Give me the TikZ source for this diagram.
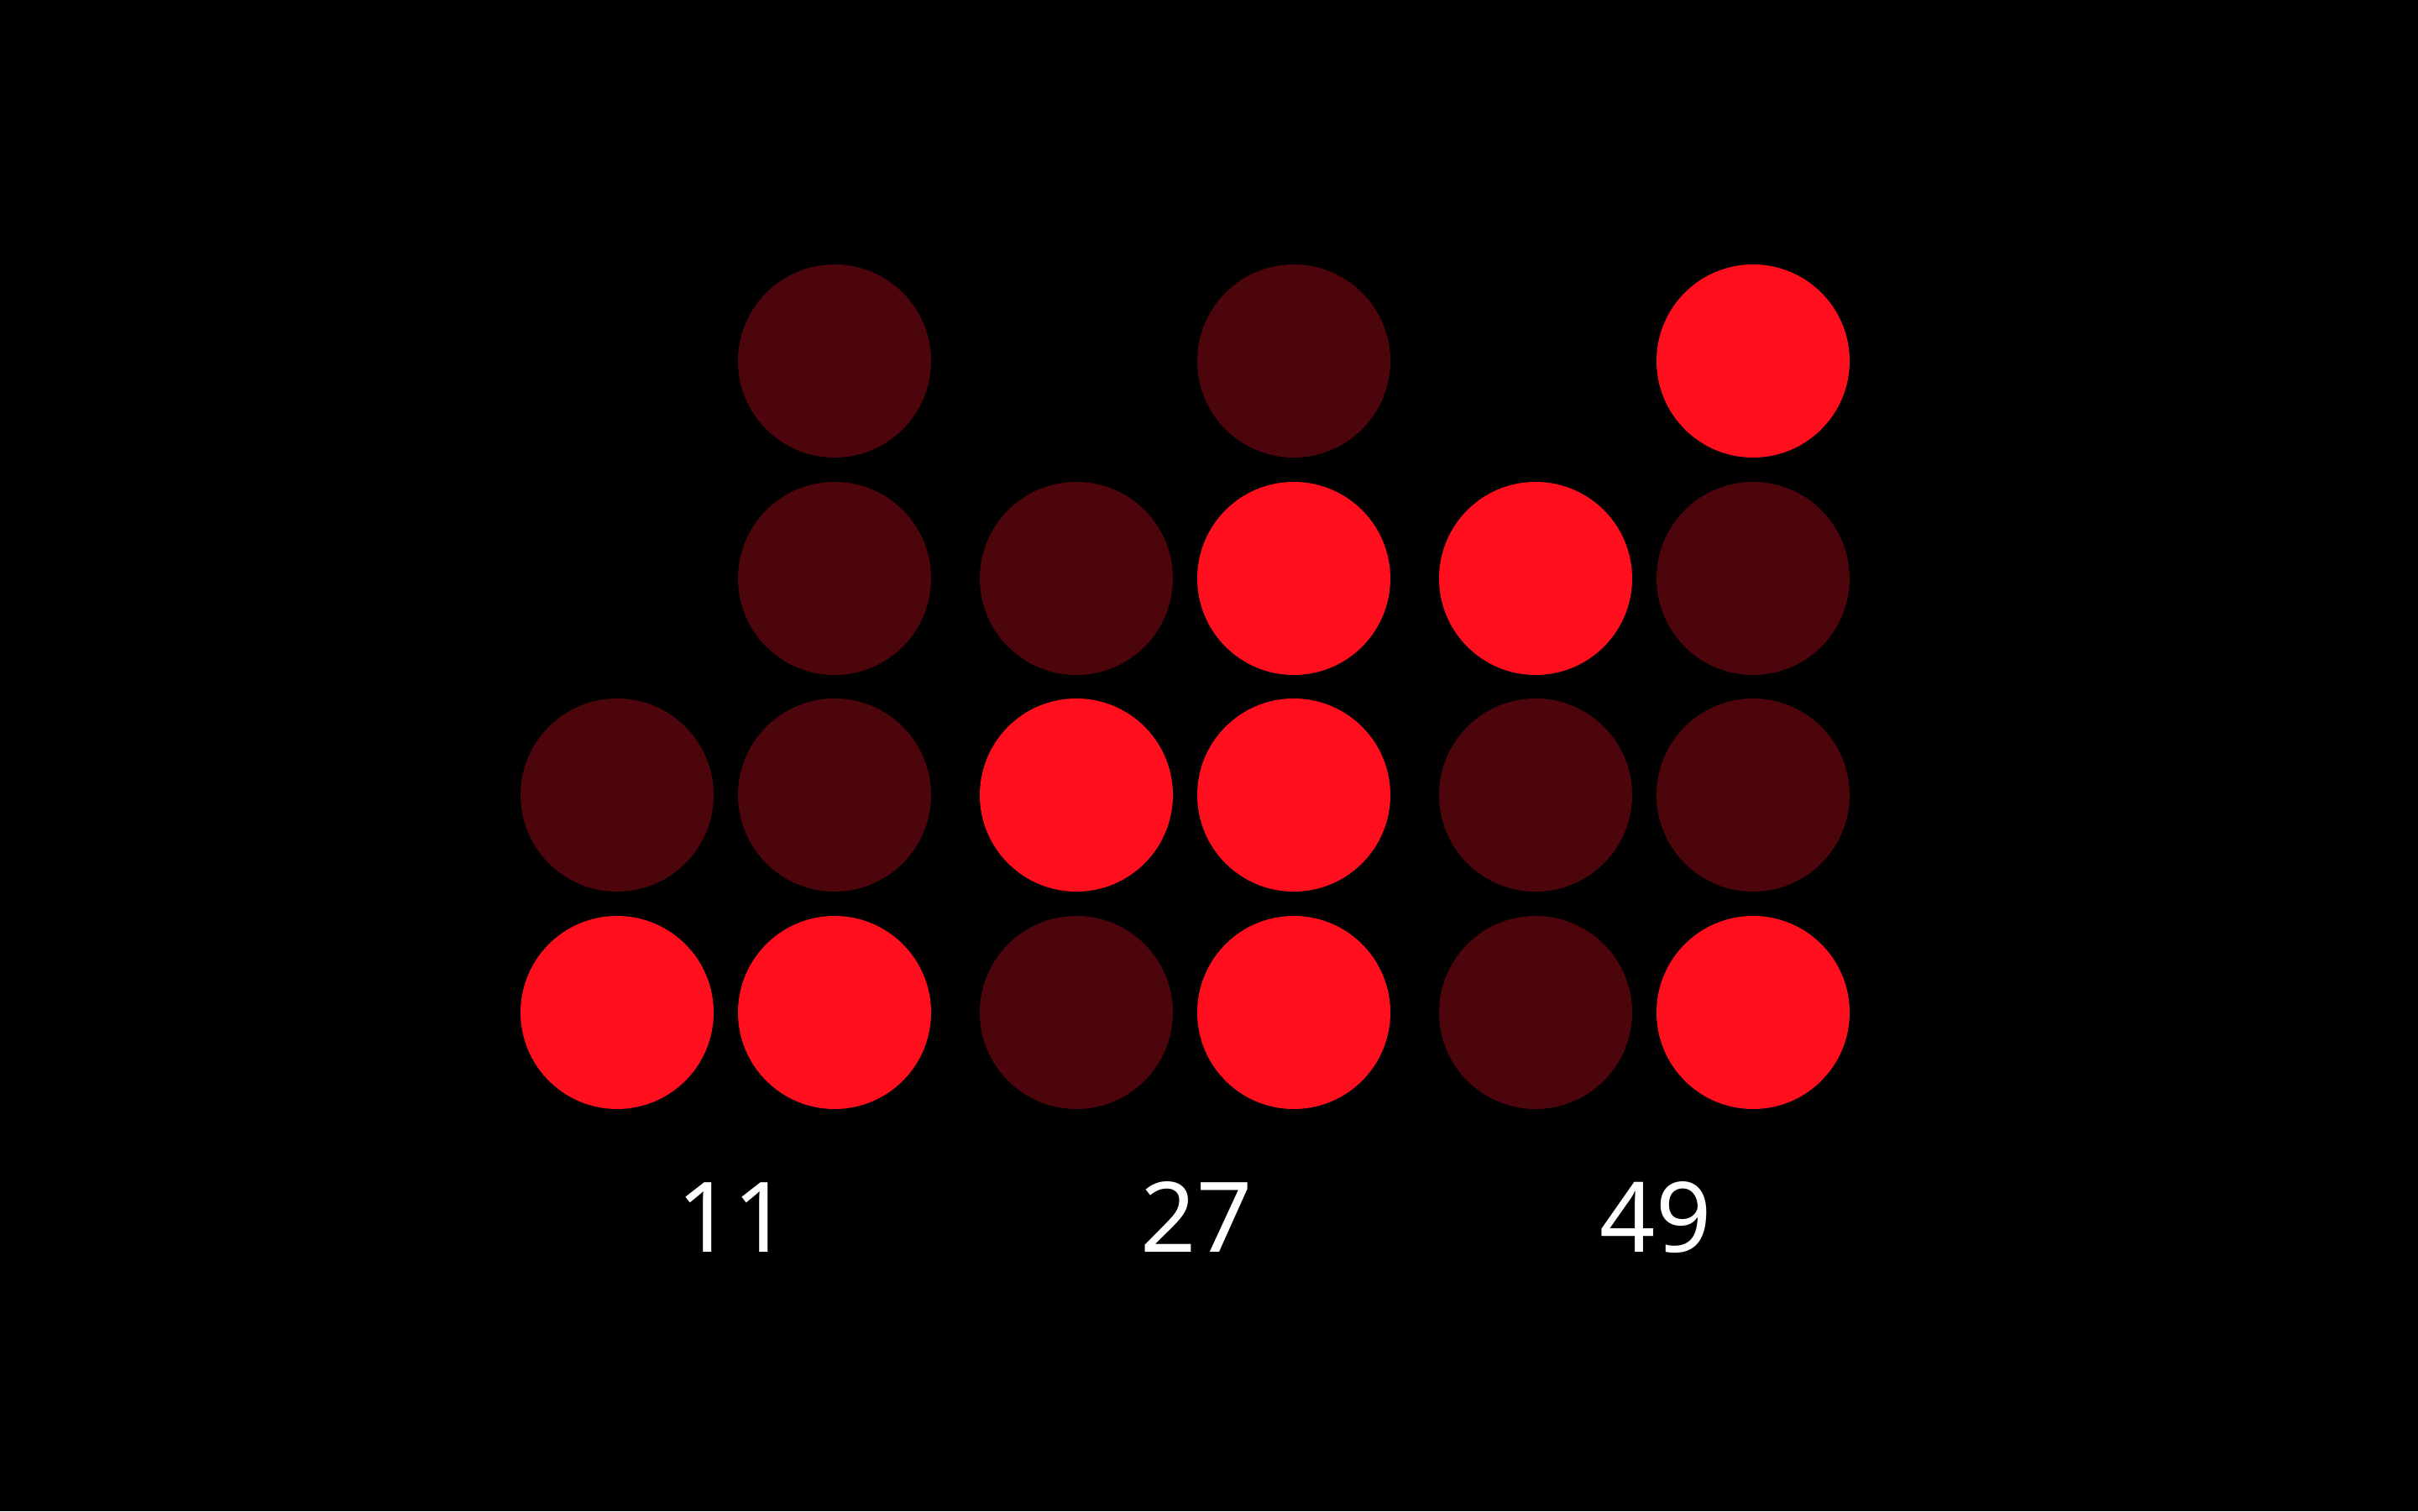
\documentclass[tikz,border=0pt]{standalone}
\usepackage{fontspec}
\setmainfont{Noto Sans}
\usepackage{tikz}
\usetikzlibrary{positioning}
\definecolor{biton}{RGB}{255, 15, 30}
\definecolor{bitoff}{RGB}{76, 5, 10}
\definecolor{bgblack}{RGB}{0, 0, 0}

\tikzset{
  on/.style={circle, fill=biton, minimum size=2.3cm, inner sep=0pt},
  off/.style={circle, fill=bitoff, minimum size=2.3cm, inner sep=0pt},
  digits/.style={white, font=\fontsize{33}{36}\selectfont, anchor=base}
}

\begin{document}
\begin{tikzpicture}
  % 背景
  \fill[bgblack] (0,0) rectangle (28.8,18);

  % 时：1 1
  \node[off] (h1b1) at (7.35, 8.53) {};
  \node[on]  (h1b0) at (7.35, 5.94) {};
  \node[off] (h0b3) at (9.94,13.70) {};
  \node[off] (h0b2) at (9.94,11.11) {};
  \node[off] (h0b1) at (9.94, 8.53) {};
  \node[on]  (h0b0) at (9.94, 5.94) {};

  % 分：2 7
  \node[off] (m1b2) at (12.82,11.11) {};
  \node[on]  (m1b1) at (12.82, 8.53) {};
  \node[off] (m1b0) at (12.82, 5.94) {};
  \node[off] (m0b3) at (15.41,13.70) {};
  \node[on]  (m0b2) at (15.41,11.11) {};
  \node[on]  (m0b1) at (15.41, 8.53) {};
  \node[on]  (m0b0) at (15.41, 5.94) {};

  % 秒：4 9
  \node[on]  (s1b2) at (18.29,11.11) {};
  \node[off] (s1b1) at (18.29, 8.53) {};
  \node[off] (s1b0) at (18.29, 5.94) {};
  \node[on]  (s0b3) at (20.88,13.70) {};
  \node[off] (s0b2) at (20.88,11.11) {};
  \node[off] (s0b1) at (20.88, 8.53) {};
  \node[on]  (s0b0) at (20.88, 5.94) {};

  % 读数
  \node[digits] (hours)   at (8.73, 3.09) {11};
  \node[digits] (minutes) at (14.25,3.09) {27};
  \node[digits] (seconds) at (19.72,3.09) {49};
\end{tikzpicture}
\end{document}
